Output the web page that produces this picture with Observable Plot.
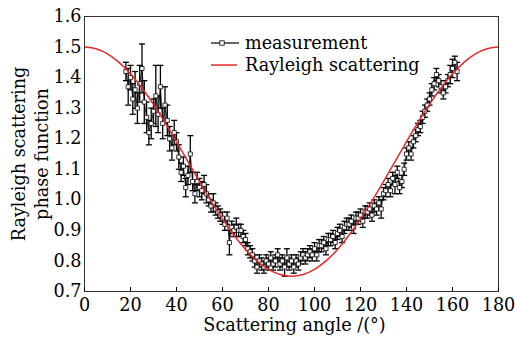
<!DOCTYPE html>
<html><head><meta charset="utf-8">
<script src="https://cdn.jsdelivr.net/npm/d3@7"></script>
<script src="https://cdn.jsdelivr.net/npm/@observablehq/plot@0.6"></script>
<style>body{margin:0;background:#fff}</style>
</head><body><div id="chart"></div>
<script>
const angles = [18,19,20,21,22,23,24,25,26,27,28,29,30,31,32,33,34,35,36,37,38,39,40,41,42,43,44,45,46,47,48,49,50,51,52,53,54,55,56,57,58,59,60,61,62,63,64,65,66,67,68,69,70,71,72,73,74,75,76,77,78,79,80,81,82,83,84,85,86,87,88,89,90,91,92,93,94,95,96,97,98,99,100,101,102,103,104,105,106,107,108,109,110,111,112,113,114,115,116,117,118,119,120,121,122,123,124,125,126,127,128,129,130,131,132,133,134,135,136,137,138,139,140,141,142,143,144,145,146,147,148,149,150,151,152,153,154,155,156,157,158,159,160,161,162];
const values = [1.42,1.37,1.40,1.33,1.36,1.30,1.38,1.43,1.32,1.27,1.22,1.25,
1.29,1.34,1.28,1.37,1.25,1.31,1.26,1.20,1.17,1.22,
1.19,1.14,1.09,1.11,1.04,1.08,1.15,1.06,1.02,1.06,
1.04,1.03,1.05,1.02,1.00,0.98,0.99,0.97,0.96,0.95,
0.94,0.92,0.94,0.86,0.91,0.90,0.91,0.90,0.90,0.88,
0.87,0.84,0.83,0.82,0.80,0.78,0.80,0.79,0.78,0.80,
0.79,0.81,0.79,0.80,0.82,0.79,0.80,0.78,0.81,0.79,
0.80,0.78,0.80,0.79,0.81,0.82,0.81,0.82,0.83,0.82,
0.84,0.82,0.85,0.85,0.86,0.84,0.87,0.87,0.88,0.86,
0.89,0.90,0.88,0.91,0.92,0.92,0.93,0.91,0.94,0.94,
0.95,0.93,0.96,0.96,0.97,0.95,0.98,0.97,0.99,0.97,
1.02,1.03,1.05,1.03,1.07,1.05,1.09,1.04,1.06,1.10,
1.15,1.17,1.15,1.19,1.21,1.23,1.24,1.27,1.29,1.31,
1.33,1.36,1.38,1.41,1.39,1.37,1.35,1.37,1.39,1.41,
1.43,1.45,1.42];
const errors = [0.03,0.06,0.04,0.05,0.06,0.05,0.06,0.08,0.07,0.05,0.04,0.05,
0.04,0.10,0.06,0.07,0.05,0.06,0.05,0.04,0.04,0.04,
0.03,0.04,0.03,0.03,0.03,0.03,0.06,0.03,0.03,0.03,
0.03,0.03,0.03,0.03,0.02,0.02,0.03,0.02,0.02,0.02,
0.02,0.02,0.02,0.04,0.02,0.02,0.03,0.02,0.02,0.02,
0.02,0.02,0.02,0.02,0.02,0.02,0.02,0.02,0.02,0.02,
0.02,0.02,0.02,0.02,0.02,0.02,0.02,0.03,0.03,0.02,
0.02,0.02,0.02,0.02,0.02,0.02,0.02,0.02,0.02,0.02,
0.02,0.02,0.02,0.02,0.02,0.02,0.02,0.02,0.02,0.02,
0.02,0.02,0.02,0.02,0.02,0.02,0.02,0.02,0.02,0.02,
0.02,0.02,0.02,0.02,0.02,0.02,0.02,0.02,0.02,0.03,
0.02,0.02,0.02,0.02,0.02,0.03,0.02,0.02,0.02,0.02,
0.02,0.02,0.02,0.02,0.02,0.02,0.02,0.02,0.02,0.02,
0.02,0.02,0.02,0.02,0.02,0.02,0.02,0.02,0.02,0.03,
0.03,0.02,0.03];
const curveAngles = [0,5,10,15,20,25,30,35,40,45,50,55,60,65,70,75,80,85,90,95,100,105,110,115,120,125,130,135,140,145,150,155,160,165,170,175,180];
const curveValues = [1.5,1.4943,1.4774,1.4498,1.4123,1.3661,1.3125,1.2533,1.1901,1.125,1.0599,0.9967,0.9375,0.8840,0.8377,0.8002,0.7726,0.7557,0.75,0.7557,0.7726,0.8002,0.8377,0.8840,0.9375,0.9967,1.0599,1.125,1.1901,1.2533,1.3125,1.3661,1.4123,1.4498,1.4774,1.4943,1.5];
const xTicks = [0,20,40,60,80,100,120,140,160,180];
const yTicks = [0.7,0.8,0.9,1.0,1.1,1.2,1.3,1.4,1.5,1.6];
const seriesNames = ["measurement","Rayleigh scattering"];
const xLabel = "Scattering angle /(°)";
const yLabel = "Rayleigh scattering\nphase function";

const meas = angles.map((a,i)=>({a, v: values[i], e: errors[i]}));
const ray = curveAngles.map((a,i)=>({a, v: curveValues[i]}));
const cap = {draw(ctx){ ctx.moveTo(-3,0); ctx.lineTo(3,0); }};
const font = "DejaVu Serif";
const fs = 17.6;

const chart = Plot.plot({
  width: 515, height: 340,
  marginTop: 16, marginRight: 17, marginBottom: 49, marginLeft: 84,
  style: {fontFamily: font, fontSize: fs + "px", color: "#000", background: "#fff"},
  x: {domain: [0,180]},
  y: {domain: [0.7,1.6]},
  marks: [
    Plot.line(meas, {x:"a", y:"v", stroke:"#000", strokeWidth:0.8}),
    Plot.ruleX(meas, {x:"a", y1:d=>d.v-d.e, y2:d=>d.v+d.e, stroke:"#000", strokeWidth:1.3}),
    Plot.dot(meas, {x:"a", y:d=>d.v+d.e, symbol:cap, stroke:"#000", strokeWidth:1.3, fill:"none"}),
    Plot.dot(meas, {x:"a", y:d=>d.v-d.e, symbol:cap, stroke:"#000", strokeWidth:1.3, fill:"none"}),
    Plot.dot(meas, {x:"a", y:"v", symbol:"square", r:2.3, fill:"#fff", stroke:"#000", strokeWidth:0.8}),
    Plot.line(ray, {x:"a", y:"v", curve:"natural", stroke:"#e52a2a", strokeWidth:1.5}),
    Plot.frame({stroke:"#333", strokeWidth:1}),
    Plot.axisX({ticks:xTicks, tickSize:-4, tickPadding:11, label:null, tickFormat:d=>String(d), fontSize:fs}),
    Plot.axisY({ticks:yTicks, tickSize:0, tickPadding:3, tickFormat:d3.format(".1f"), label:null, fontSize:fs}),
    Plot.text([yLabel], {frameAnchor:"left", text:d=>d, rotate:-90, dx:-55, textAnchor:"middle", lineHeight:1.28, fontSize:fs}),
    Plot.text([xLabel], {frameAnchor:"bottom", text:d=>d, dx:3, dy:39, fontSize:fs})
  ]
});
document.getElementById("chart").appendChild(chart);

const svg = d3.select(chart);
const lg = svg.append("g");
lg.append("line").attr("x1",211).attr("x2",239).attr("y1",43).attr("y2",43).attr("stroke","#000").attr("stroke-width",1.2);
lg.append("rect").attr("x",219.8).attr("y",40.8).attr("width",4.4).attr("height",4.4).attr("fill","#fff").attr("stroke","#000").attr("stroke-width",0.8);
lg.append("line").attr("x1",211).attr("x2",237).attr("y1",65).attr("y2",65).attr("stroke","#e52a2a").attr("stroke-width",1.5);
lg.selectAll("text").data(seriesNames).join("text")
  .attr("x",245).attr("y",(d,i)=>43+22*i).attr("dy","0.35em").attr("text-anchor","start")
  .attr("font-family",font).attr("font-size",fs).attr("fill","#000").text(d=>d);
</script>
</body></html>
